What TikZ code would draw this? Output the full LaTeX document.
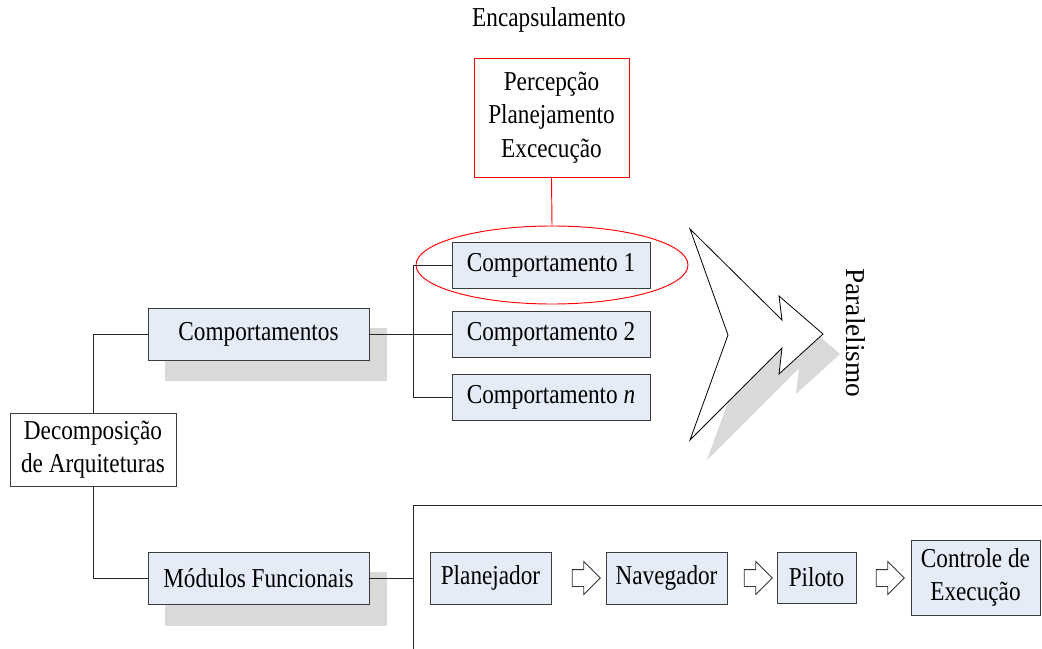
\documentclass[tikz,border=0pt]{standalone}
\usepackage{fontspec}
\setmainfont{Liberation Serif}[FakeStretch=0.85]
\newfontfamily\plainserif{Liberation Serif}
\usetikzlibrary{shapes.geometric,shapes.arrows}
\definecolor{boxfill}{RGB}{230,236,247}
\definecolor{shadowgray}{RGB}{217,217,217}
\definecolor{edgegray}{RGB}{60,60,60}
\begin{document}
\begin{tikzpicture}[x=0.75pt,y=-0.75pt,
  txt/.style={font=\fontsize{20.5}{25.2}\selectfont, align=center, inner sep=0pt},
  bluebox/.style={txt, draw=edgegray, fill=boxfill, line width=0.7pt},
  whitebox/.style={txt, draw=edgegray, fill=white, line width=0.7pt},
  conn/.style={draw=black!85, line width=0.7pt},
  redline/.style={draw=red, line width=0.7pt},
  shade/.style={fill=shadowgray, draw=none},
  hollowarrow/.style={single arrow, draw=black!80, fill=white, line width=0.6pt,
    minimum height=21pt, minimum width=24pt, inner sep=6pt,
    single arrow head extend=6pt, single arrow head indent=0pt}
]
\useasboundingbox (0,0) rectangle (1042,649);

% title
\node[txt] (enc) at (549,20) {Encapsulamento};

% red box and ellipse
\node[txt, draw=red, fill=white, line width=0.7pt, minimum width=116.25pt, minimum height=89.25pt]
  (epe) at (551.5,117.5) {Percepção\\Planejamento\\Excecução};
\node[draw=red, line width=0.7pt, ellipse, minimum width=204pt, minimum height=58.5pt, inner sep=0pt]
  (ell) at (552,265) {};
\draw[redline] (epe.south) -- (ell.north);

% shadows
\fill[shade] (165,328) rectangle (387,381);
\fill[shade] (165,572) rectangle (387,626);

% behaviour boxes
\node[bluebox, minimum width=148.5pt, minimum height=34.5pt] (c1) at (551,265) {Comportamento 1};
\node[bluebox, minimum width=148.5pt, minimum height=34.5pt] (c2) at (551,334) {Comportamento 2};
\node[bluebox, minimum width=148.5pt, minimum height=34pt] (cn) at (551,397.5) {Comportamento \textit{n}};

\node[bluebox, minimum width=165.75pt, minimum height=39pt] (comps) at (258.5,334) {Comportamentos};
\node[bluebox, minimum width=165.75pt, minimum height=39pt] (mods) at (258.5,578) {Módulos Funcionais};
\node[whitebox, minimum width=124.5pt, minimum height=54.75pt] (dec) at (93,449.5) {Decomposição\\de Arquiteturas};

% functional modules
\node[bluebox, minimum width=90.75pt, minimum height=39pt] (plan) at (490.5,578) {Planejador};
\node[bluebox, minimum width=90.75pt, minimum height=39pt] (nav) at (666.5,578) {Navegador};
\node[bluebox, minimum width=59.25pt, minimum height=38.25pt] (pil) at (816.5,577.5) {Piloto};
\node[bluebox, minimum width=96.75pt, minimum height=56.25pt] (ctrl) at (975.5,577.5) {Controle de\\Execução};

\node[hollowarrow] (a1) at (582,578) {};
\node[hollowarrow] (a2) at (754,578) {};
\node[hollowarrow] (a3) at (886,578) {};

% connectors
\coordinate (bx) at (413,334);
\draw[conn] (dec.north) |- (comps.west);
\draw[conn] (dec.south) |- (mods.west);
\draw[conn] (comps.east) -- (bx);
\draw[conn] (c1.west) -| (bx);
\draw[conn] (cn.west) -| (bx);
\draw[conn] (c2.west) -- (bx);

\coordinate (lb) at (413,649);
\coordinate (lt) at (413,505);
\coordinate (rt) at (1042,505);
\coordinate (lm) at (413,578);
\draw[conn] (mods.east) -- (lm);
\draw[conn] (lb) -- (lt) -- (rt);

% big arrow with shadow
\fill[shadowgray, shift={(17,20)}] (690,229) -- (782,320) -- (779,296) -- (823,334) -- (779,374) -- (782,348) -- (690,440) -- (728,335) -- cycle;
\draw[black, fill=white, line width=0.6pt] (690,229) -- (782,320) -- (779,296) -- (823,334) -- (779,374) -- (782,348) -- (690,440) -- (728,335) -- cycle;
\node[inner sep=0pt, rotate=-90, font=\plainserif\fontsize{20.5}{24.5}\selectfont] (par) at (856,333) {Paralelismo};
\end{tikzpicture}
\end{document}
